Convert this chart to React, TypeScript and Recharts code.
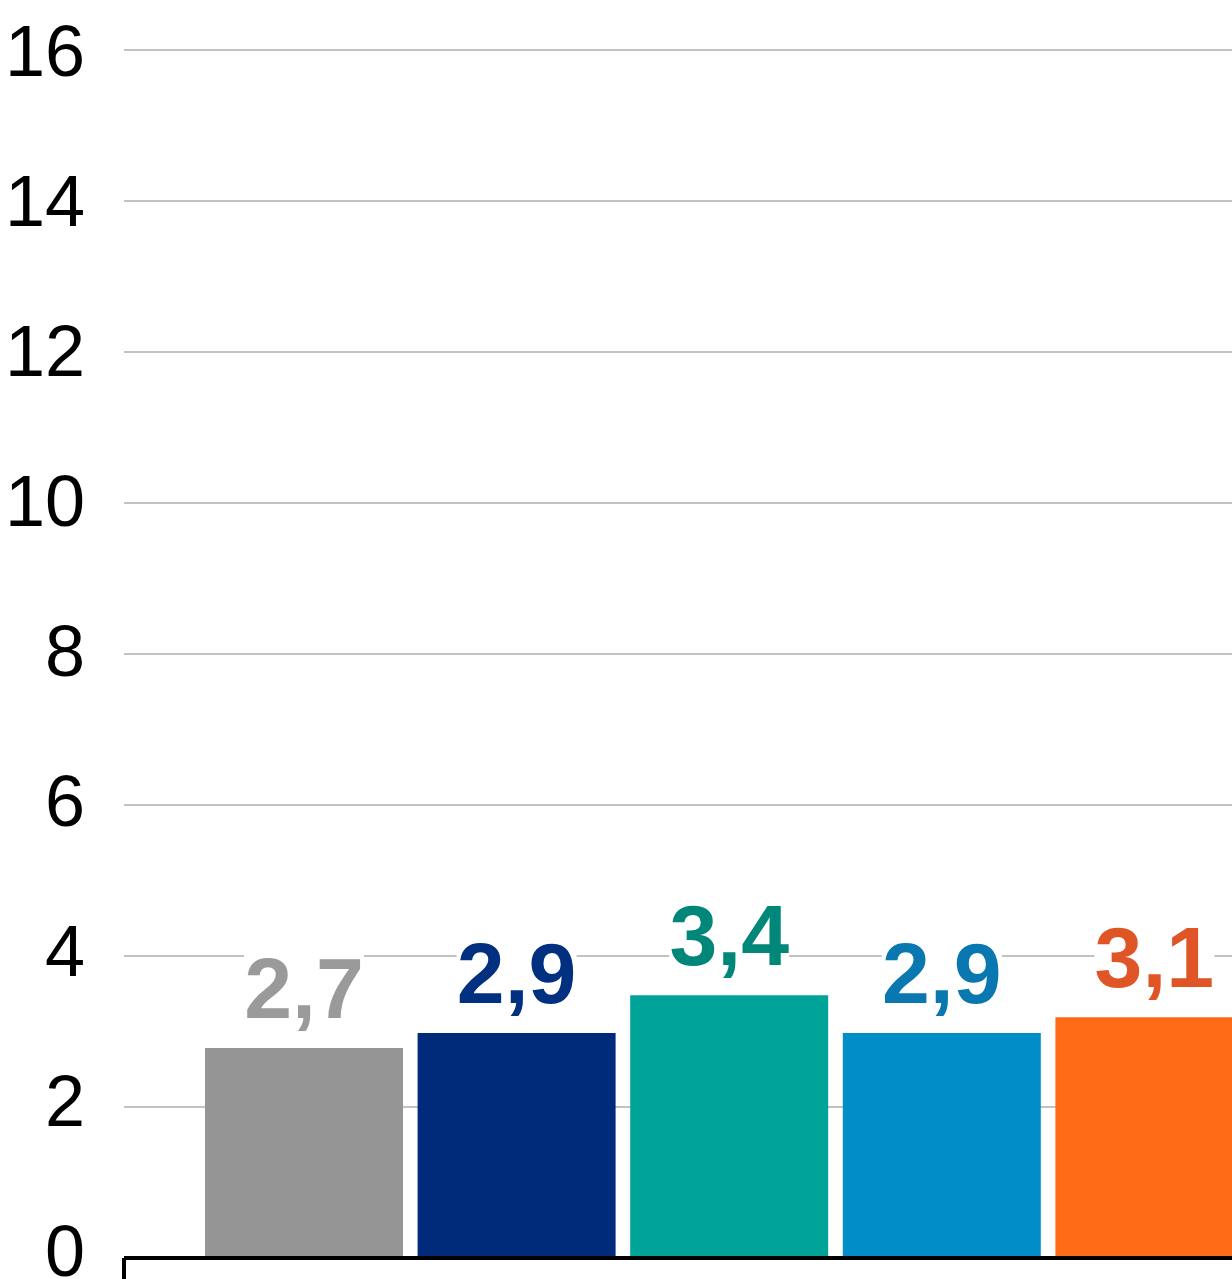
import React from "react";
import { BarChart, Bar, XAxis, YAxis, CartesianGrid, Cell, LabelList } from "recharts";

const categories = ["A", "B", "C", "D", "E"];
const values = [2.78, 2.98, 3.48, 2.98, 3.19];
const valueLabels = ["2,7", "2,9", "3,4", "2,9", "3,1"];
const yTicks = [0, 2, 4, 6, 8, 10, 12, 14, 16];

const barColors = ["#959595", "#002b7a", "#00a398", "#008dc8", "#ff6a17"];
const labelColors = ["#9a9a9a", "#00307f", "#008779", "#0a78b0", "#e05525"];

const data = categories.map((name, i) => ({ name, value: values[i], label: valueLabels[i] }));

const FONT = "'Liberation Sans', Arial, sans-serif";

const ValueLabel = (props: any) => {
  const { x, y, width, index, value } = props;
  const cx = x + width / 2;
  const base = y - 30;
  return (
    <g>
      <rect x={cx - 60} y={base - 68} width={120} height={86} fill="#ffffff" />
      <text
        x={cx}
        y={base}
        textAnchor="middle"
        fill={labelColors[index]}
        fontSize={86}
        fontWeight="bold"
        fontFamily={FONT}
      >
        {value}
      </text>
    </g>
  );
};

// tick labels sit a little higher near the bottom, like the original
const YTick = (props: any) => {
  const { x, y, payload } = props;
  const off = 18 + payload.value * 0.5;
  return (
    <text x={x} y={y + off} textAnchor="end" fill="#000" fontSize={72} fontFamily={FONT}>
      {payload.value}
    </text>
  );
};

export default function App() {
  return (
    <div style={{ position: "absolute", left: 0, top: 0, width: 1232, height: 1279, overflow: "hidden", background: "#fff" }}>
      <BarChart width={1261} height={1279} data={data} margin={{ top: 50, right: 0, bottom: 0, left: 0 }}>
        <CartesianGrid vertical={false} stroke="#c2c2c2" strokeWidth={2} />
        <XAxis
          dataKey="name"
          height={21}
          tick={false}
          tickLine={false}
          axisLine={{ stroke: "#000", strokeWidth: 4 }}
          padding={{ left: 74, right: 0 }}
        />
        <YAxis
          domain={[0, 16]}
          ticks={yTicks}
          width={124}
          axisLine={false}
          tickLine={false}
          tickSize={0}
          tickMargin={39}
          tick={<YTick />}
          interval={0}
        />
        <Bar dataKey="value" barSize={198} isAnimationActive={false}>
          {data.map((d, i) => (
            <Cell key={d.name} fill={barColors[i]} />
          ))}
          <LabelList dataKey="label" content={<ValueLabel />} />
        </Bar>
      </BarChart>
      <div style={{ position: "absolute", left: 122, top: 1258, width: 4, height: 21, background: "#000" }} />
    </div>
  );
}
